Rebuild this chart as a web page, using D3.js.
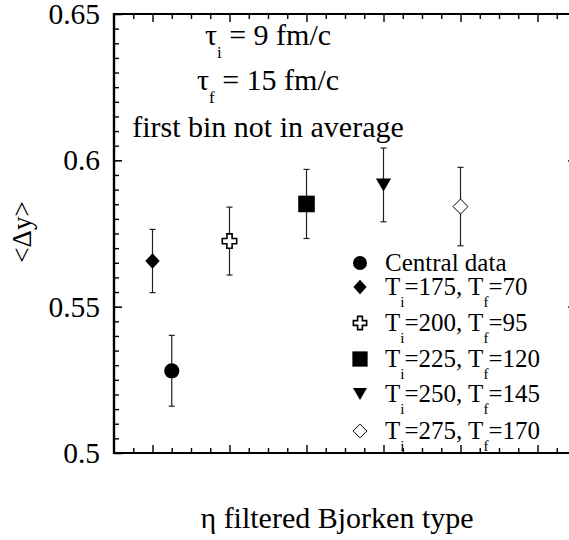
<!DOCTYPE html>
<html><head><meta charset="utf-8">
<script src="https://cdn.jsdelivr.net/npm/d3@7"></script>
<style>
body{margin:0;background:#fff;}
svg text{font-family:'Liberation Serif','Tinos','Times New Roman','Times','DejaVu Serif','Noto Serif',serif !important;fill:#000;}
</style></head>
<body>
<svg id="c" width="569" height="540" font-family="'Liberation Serif','Tinos','Times New Roman','DejaVu Serif',serif"></svg>
<script>
// ---- data ----
const seriesNames = ["Central data","Ti=175, Tf=70","Ti=200, Tf=95","Ti=225, Tf=120","Ti=250, Tf=145","Ti=275, Tf=170"];
const Ti = [null,175,200,225,250,275];
const Tf = [null,70,95,120,145,170];
const xPos = [0.75,0.5,1.5,2.5,3.5,4.5];
const yVal = [0.5281,0.5656,0.5724,0.5851,0.5916,0.5842];
const yErr = [0.0121,0.0108,0.0116,0.0118,0.0126,0.0134];
const yTicks = [0.5,0.55,0.6,0.65];
const yTickLabels = ["0.5","0.55","0.6","0.65"];
const symbols = ["circle","diamond","cross","square","triangle","odiamond"];

const FONT = "'Liberation Serif','Tinos','Times New Roman','DejaVu Serif',serif";
const svg = d3.select("#c");
const L=114, R=576, T=14, B=453;
const x = d3.scaleLinear().domain([0,6]).range([L,R]);
const y = d3.scaleLinear().domain([0.5,0.65]).range([B,T]);

const xMajor = d3.range(0,6.01,1).map(d=>d+0.5).filter(d=>d<6);
const xMinor = d3.range(0,24).map(d=>d*0.25).filter(d=>!xMajor.includes(d) && d>0);
const yMinor = d3.range(0,31).map(d=>0.5+d*0.005).filter(v=>!yTicks.some(t=>Math.abs(t-v)<1e-9));

function styleAxis(g, sw){ g.attr("font-family",FONT); g.selectAll(".domain").remove(); g.selectAll("line").attr("stroke","#000").attr("stroke-width",sw); }

// left axis
svg.append("g").attr("transform",`translate(${L},0)`)
  .call(d3.axisLeft(y).tickValues(yTicks).tickSizeInner(-8).tickSizeOuter(0).tickPadding(14).tickFormat((d,i)=>yTickLabels[i]))
  .call(g=>{styleAxis(g,1.6); g.selectAll("text").attr("font-size",29.5).attr("font-family",FONT);});
svg.append("g").attr("transform",`translate(${L},0)`)
  .call(d3.axisLeft(y).tickValues(yMinor).tickSizeInner(-5).tickSizeOuter(0).tickFormat(""))
  .call(g=>styleAxis(g,1.4));
// right axis
svg.append("g").attr("transform",`translate(${R},0)`)
  .call(d3.axisRight(y).tickValues(yTicks).tickSizeInner(-8).tickSizeOuter(0).tickFormat(""))
  .call(g=>styleAxis(g,1.2));
// bottom axis
svg.append("g").attr("transform",`translate(0,${B})`)
  .call(d3.axisBottom(x).tickValues(xMajor).tickSizeInner(-8).tickSizeOuter(0).tickFormat(""))
  .call(g=>styleAxis(g,1.4));
svg.append("g").attr("transform",`translate(0,${B})`)
  .call(d3.axisBottom(x).tickValues(xMinor).tickSizeInner(-5).tickSizeOuter(0).tickFormat(""))
  .call(g=>styleAxis(g,1.4));
// top axis
svg.append("g").attr("transform",`translate(0,${T})`)
  .call(d3.axisTop(x).tickValues(xMajor).tickSizeInner(-8).tickSizeOuter(0).tickFormat(""))
  .call(g=>styleAxis(g,1.4));
svg.append("g").attr("transform",`translate(0,${T})`)
  .call(d3.axisTop(x).tickValues(xMinor).tickSizeInner(-5).tickSizeOuter(0).tickFormat(""))
  .call(g=>styleAxis(g,1.4));
// frame lines
svg.append("line").attr("x1",L).attr("x2",L).attr("y1",T-1).attr("y2",B+1).attr("stroke","#000").attr("stroke-width",2.4);
svg.append("line").attr("x1",L).attr("x2",R).attr("y1",T).attr("y2",T).attr("stroke","#000").attr("stroke-width",2.2);
svg.append("line").attr("x1",L).attr("x2",R).attr("y1",B).attr("y2",B).attr("stroke","#000").attr("stroke-width",2.2);
svg.append("line").attr("x1",R).attr("x2",R).attr("y1",T).attr("y2",B).attr("stroke","#000").attr("stroke-width",2.2);

// symbol drawing
function drawSym(g, type, cx, cy, s){
  s = s||1;
  if(type==="circle") g.append("circle").attr("cx",cx).attr("cy",cy).attr("r",7.6*s).attr("fill","#000");
  else if(type==="diamond") g.append("path").attr("d",`M${cx},${cy-7.8*s}L${cx+7.2*s},${cy}L${cx},${cy+7.8*s}L${cx-7.2*s},${cy}Z`).attr("fill","#000");
  else if(type==="odiamond") g.append("path").attr("d",`M${cx},${cy-7.5*s}L${cx+7.5*s},${cy}L${cx},${cy+7.5*s}L${cx-7.5*s},${cy}Z`).attr("fill","#fff").attr("stroke","#000").attr("stroke-width",1);
  else if(type==="square") g.append("rect").attr("x",cx-8.3*s).attr("y",cy-8.3*s).attr("width",16.6*s).attr("height",16.6*s).attr("fill","#000");
  else if(type==="triangle") g.append("path").attr("d",`M${cx-7.6*s},${cy-6.5*s}L${cx+7.6*s},${cy-6.5*s}L${cx},${cy+6.5*s}Z`).attr("fill","#000");
  else if(type==="cross"){
    const a=7.2*s, b=2.6*s;
    g.append("path").attr("d",`M${cx-b},${cy-a}H${cx+b}V${cy-b}H${cx+a}V${cy+b}H${cx+b}V${cy+a}H${cx-b}V${cy+b}H${cx-a}V${cy-b}H${cx-b}Z`)
      .attr("fill","#fff").attr("stroke","#000").attr("stroke-width",1.6);
  }
}

// error bars + markers
const pts = svg.append("g");
xPos.forEach((xv,i)=>{
  const cx=x(xv), y0=y(yVal[i]-yErr[i]), y1=y(yVal[i]+yErr[i]);
  pts.append("line").attr("x1",cx).attr("x2",cx).attr("y1",y0).attr("y2",y1).attr("stroke","#222").attr("stroke-width",1.2);
  [y0,y1].forEach(yy=>pts.append("line").attr("x1",cx-3).attr("x2",cx+3).attr("y1",yy).attr("y2",yy).attr("stroke","#222").attr("stroke-width",1.2));
  drawSym(pts, symbols[i], cx, y(yVal[i]), 1);
});

// annotations
function subText(g, xx, yy, parts, size, subSize, shift, anchor){
  const t = g.append("text").attr("x",xx).attr("y",yy).attr("font-size",size).attr("font-family",FONT).attr("text-anchor",anchor||"start");
  let cur=0;
  parts.forEach(p=>{
    const s = p.sub ? shift : 0;
    const ts = t.append("tspan").text(p.t).attr("dy", s-cur);
    if(p.sub) ts.attr("font-size",subSize);
    cur = s;
  });
  return t;
}
subText(svg, 268, 45, [{t:"τ"},{t:"i",sub:1},{t:" = 9 fm/c"}], 30, 17, 13, "middle");
subText(svg, 268, 90, [{t:"τ"},{t:"f",sub:1},{t:" = 15 fm/c"}], 30, 17, 13, "middle");
svg.append("text").attr("x",268).attr("y",137).attr("text-anchor","middle").attr("font-family",FONT).attr("font-size",30).text("first bin not in average");

// legend
const legY = [263,287,323,359,394,431];
const leg = svg.append("g");
seriesNames.forEach((n,i)=>{
  drawSym(leg, symbols[i], 360, legY[i], 0.92);
  if(Ti[i]===null){
    leg.append("text").attr("x",385).attr("y",legY[i]+8).attr("font-family",FONT).attr("font-size",25).text(n);
  } else {
    subText(leg, 385, legY[i]+8, [{t:"T"},{t:"i",sub:1},{t:"="+Ti[i]+", T"},{t:"f",sub:1},{t:"="+Tf[i]}], 25, 15, 12, "start");
  }
});

// axis titles
svg.append("text").attr("transform","translate(31,232) rotate(-90)").attr("text-anchor","middle").attr("font-family",FONT).attr("font-size",27).text("<Δy>");
svg.append("text").attr("x",337).attr("y",528).attr("text-anchor","middle").attr("font-family",FONT).attr("font-size",30).text("η filtered Bjorken type");
</script>
</body></html>
